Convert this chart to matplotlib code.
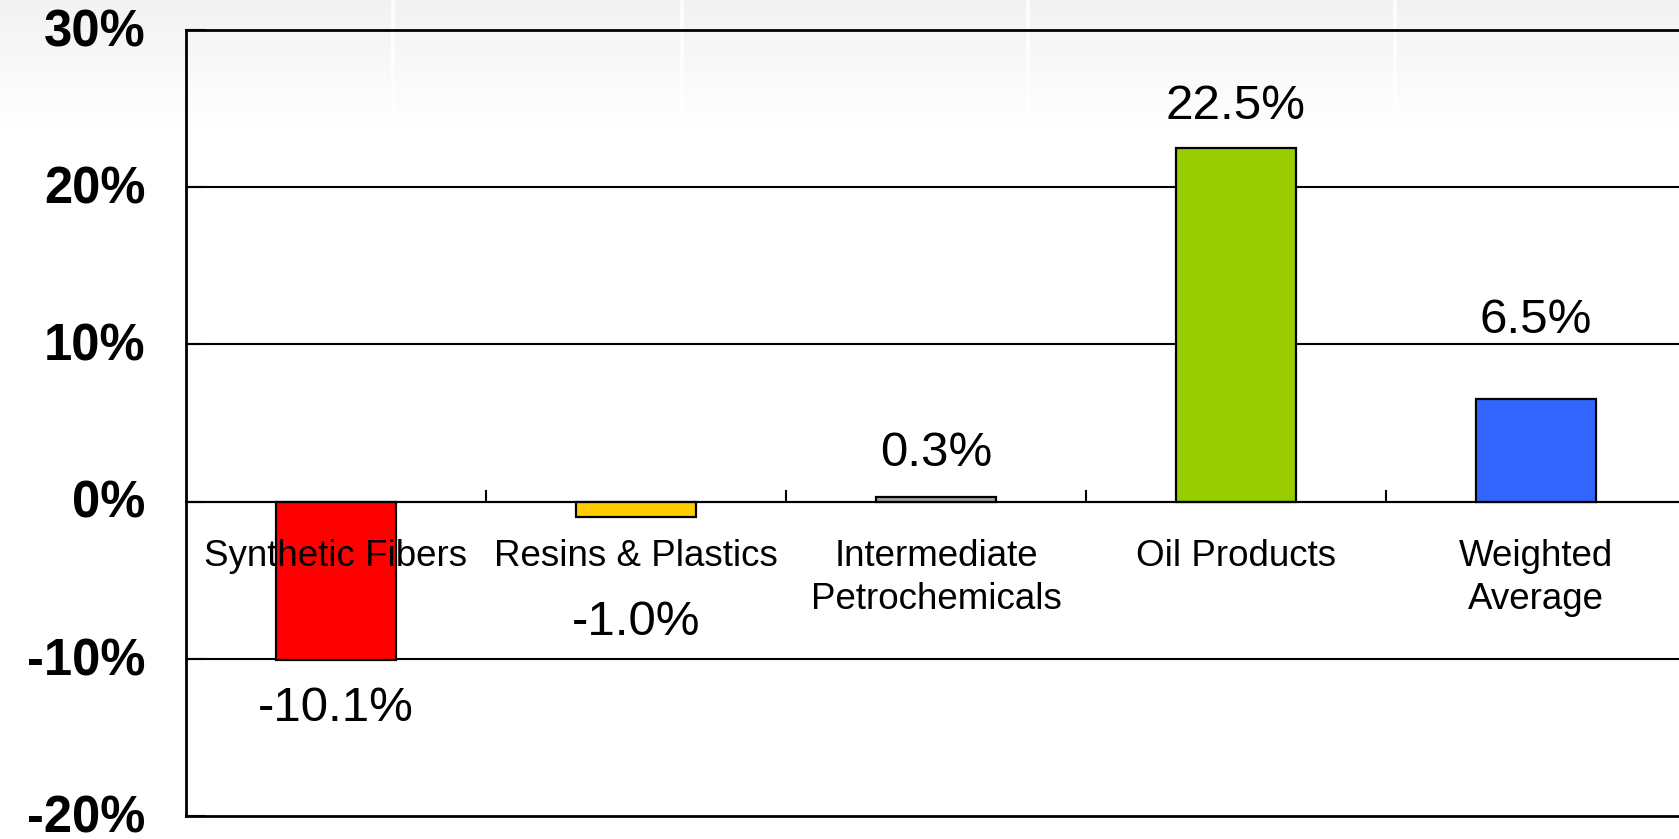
import numpy as np
import matplotlib
matplotlib.use("Agg")
import matplotlib.pyplot as plt
import matplotlib.transforms as mtransforms
from matplotlib.ticker import FixedLocator, FuncFormatter

# ---- data ----
categories = ["Synthetic Fibers", "Resins & Plastics", "Intermediate\nPetrochemicals",
              "Oil Products", "Weighted\nAverage"]
values = [-10.1, -1.0, 0.3, 22.5, 6.5]
value_labels = ["-10.1%", "-1.0%", "0.3%", "22.5%", "6.5%"]
yticks = [-20, -10, 0, 10, 20, 30]
ytick_labels = ["-20%", "-10%", "0%", "10%", "20%", "30%"]

# ---- styles ----
bar_colors = ["#FF0000", "#FFCC00", "#A6A6A6", "#99CC00", "#3366FF"]
label_offsets_pt = [-35, -76, 31, 30, 57]   # manual label placement (points)

plt.rcParams['font.family'] = ['Liberation Sans', 'DejaVu Sans']

W, H = 1679, 839
fig = plt.figure(figsize=(W / 100, H / 100), dpi=100)
fig.patch.set_facecolor("white")

# background gradient band at top (slide backdrop)
bg = fig.add_axes([0, 1 - 130 / H, 1, 130 / H], zorder=0)
grad = np.linspace(0.95, 1.0, 200).reshape(-1, 1)
grad = np.repeat(grad, 2, axis=1)
bg.imshow(np.dstack([grad, grad, grad]), aspect="auto", extent=[0, 1, 1, 0],
          interpolation="bilinear")
for xs in [393 / W, 682 / W, 1028 / W, 1395 / W]:
    bg.axvline(xs, color="white", lw=3, alpha=0.8)
bg.set_xlim(0, 1)
bg.set_ylim(1, 0)
bg.axis("off")

left, right, top, bottom = 186, 1686, 30, 816
ax = fig.add_axes([left / W, 1 - bottom / H, (right - left) / W, (bottom - top) / H], zorder=1)
ax.set_facecolor("none")
ax.set_axisbelow(False)

x = np.arange(len(categories))
bars = ax.bar(x, values, width=0.4, color=bar_colors, edgecolor="black", linewidth=1.6, zorder=2)

ax.set_xlim(-0.5, len(categories) - 0.5)
ax.set_ylim(yticks[0], yticks[-1])

# gridlines
for yv in yticks[1:-1]:
    ax.axhline(yv, color="black", lw=1.5, zorder=1)
ax.axhline(yticks[0], color="black", lw=2, zorder=1, clip_on=False)

for s in ["top", "left"]:
    ax.spines[s].set_linewidth(2)
    ax.spines[s].set_color("black")
ax.spines["right"].set_visible(False)
ax.spines["bottom"].set_position(("data", 0))
ax.spines["bottom"].set_linewidth(1.5)

# y axis
ax.yaxis.set_major_locator(FixedLocator(yticks))
ax.set_yticklabels(ytick_labels)
ax.tick_params(axis="y", direction="in", length=14, width=1.5, pad=29,
               labelsize=36.5)
shift = mtransforms.ScaledTranslation(0, 2 / 72, fig.dpi_scale_trans)
for t in ax.get_yticklabels():
    t.set_fontweight("bold")
    t.set_transform(t.get_transform() + shift)

# x axis: boundary ticks (inward) and centered labels
ax.xaxis.set_major_locator(FixedLocator(list(np.arange(len(categories) - 1) + 0.5)))
ax.xaxis.set_minor_locator(FixedLocator(list(x)))
ax.xaxis.set_major_formatter(FuncFormatter(lambda v, p: ""))
ax.set_xticklabels(categories, minor=True)
ax.tick_params(axis="x", which="major", direction="in", length=9, width=1.5)
ax.tick_params(axis="x", which="minor", length=0, pad=27, labelsize=26.5)
for t in ax.get_xticklabels(minor=True):
    t.set_linespacing(1.3)

# value labels
for xi, v, lab, off in zip(x, values, value_labels, label_offsets_pt):
    ax.annotate(lab, xy=(xi, v), xytext=(0, off), textcoords="offset points",
                ha="center", va="center", fontsize=35.5, zorder=5)

fig.savefig("out.png", dpi=100)
